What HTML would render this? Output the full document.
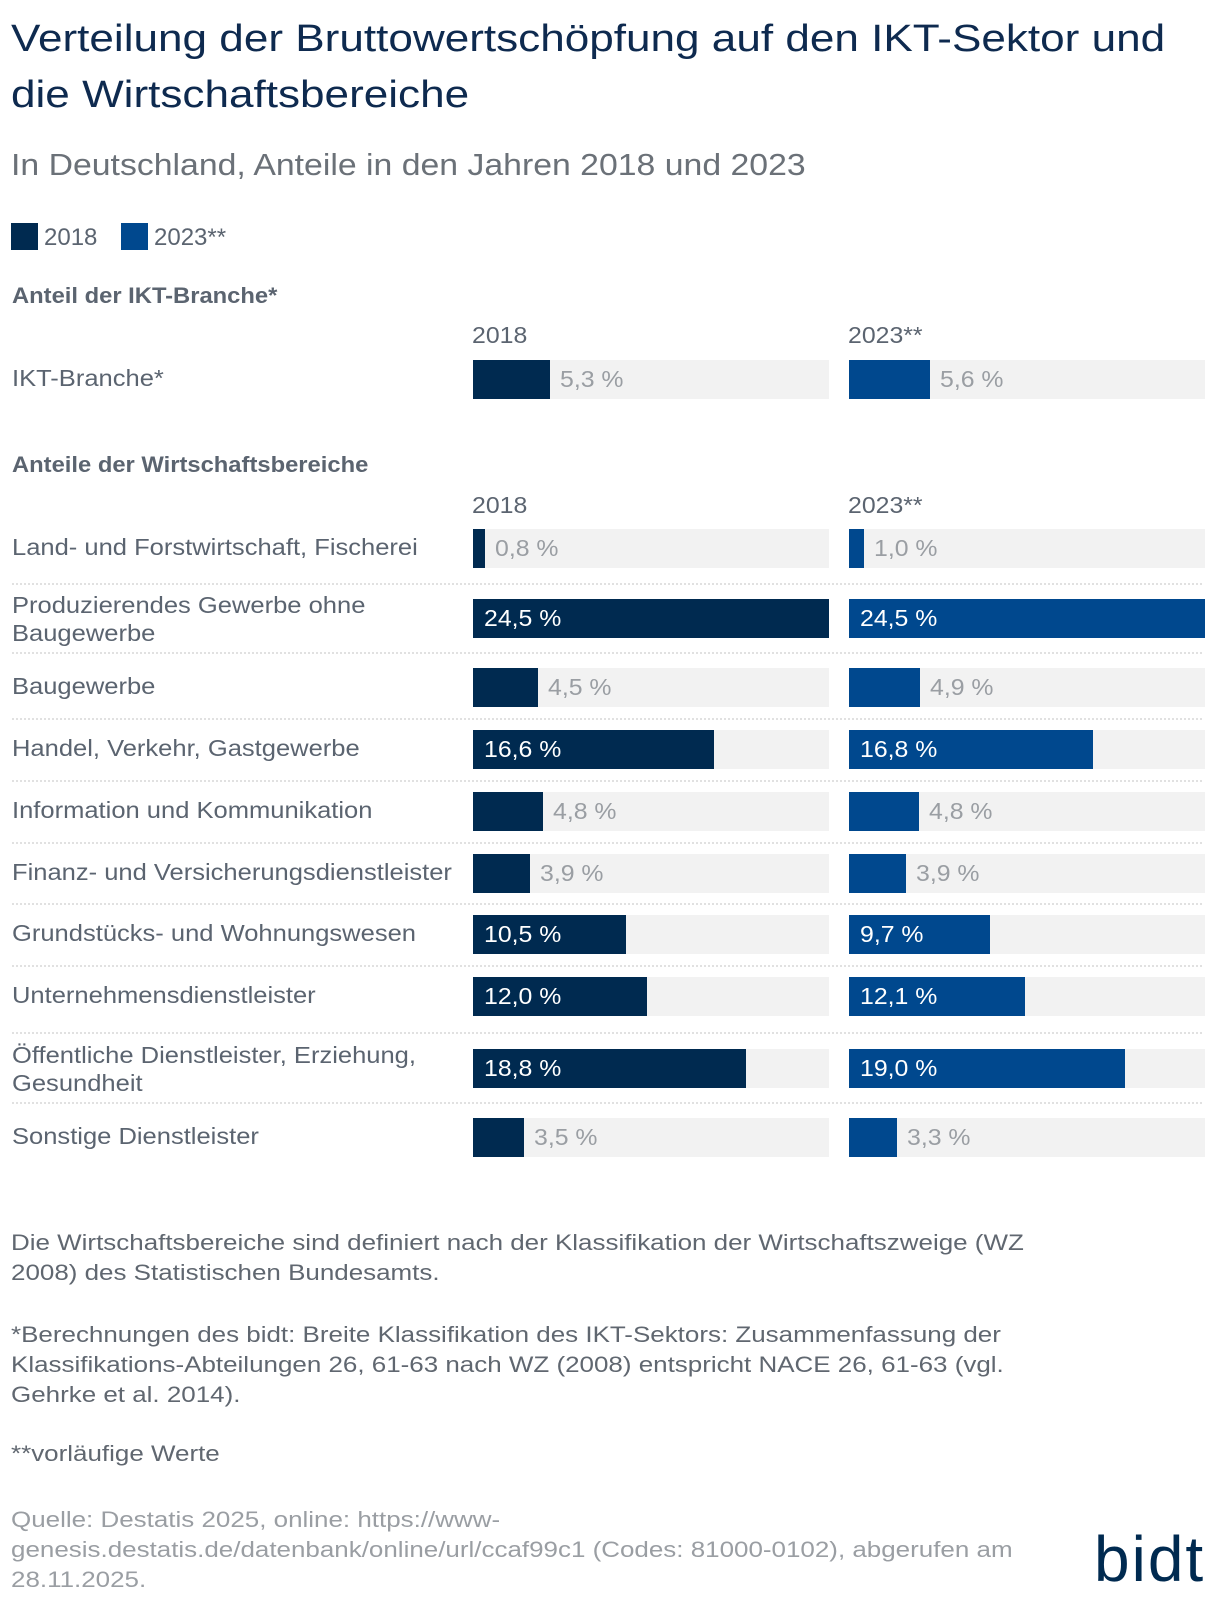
<!DOCTYPE html>
<html><head><meta charset="utf-8">
<style>
body{margin:0;width:1220px;height:1614px;background:#fff;font-family:"Liberation Sans",sans-serif;position:relative;overflow:hidden}
.a{position:absolute;white-space:nowrap;transform-origin:0 0}
.t{left:11px;font-size:38px;color:#0e2a4f;transform:scaleX(1.16)}
.lab{left:12px;font-size:23px;color:#5b6470;line-height:28px;transform:scaleX(1.11)}
.yr{font-size:23px;color:#5b6470;transform:scaleX(1.08)}
.hd{left:12px;font-size:22px;font-weight:bold;color:#5b6470;transform:scaleX(1.08)}
.note{left:11px;font-size:22px;color:#606770;line-height:30px;transform:scaleX(1.18)}
.bg{background:#f2f2f2;position:absolute}
.bar{position:absolute}
.val{position:absolute;font-size:23px;line-height:39px;white-space:nowrap;transform-origin:0 0;transform:scaleX(1.08)}
.sep{position:absolute;left:12px;width:1190px;border-top:2px dotted #e1e1e1}
</style></head><body>
<div class="a t" style="top:18px">Verteilung der Bruttowertschöpfung auf den IKT-Sektor und</div>
<div class="a t" style="top:74px">die Wirtschaftsbereiche</div>
<div class="a" style="left:11px;top:147px;font-size:31px;color:#6b7178;transform:scaleX(1.09)">In Deutschland, Anteile in den Jahren 2018 und 2023</div>
<div class="a" style="left:11px;top:223px;font-size:24px;color:#5b6470"><span style="display:inline-block;width:27px;height:27px;background:#002a50;vertical-align:-5px;margin-right:6px"></span>2018</div>
<div class="a" style="left:121px;top:223px;font-size:24px;color:#5b6470"><span style="display:inline-block;width:27px;height:27px;background:#00488e;vertical-align:-5px;margin-right:6px"></span>2023**</div>
<div class="a hd" style="top:283px">Anteil der IKT-Branche*</div>
<div class="a hd" style="top:452px">Anteile der Wirtschaftsbereiche</div>
<div class="a yr" style="left:472px;top:322px">2018</div>
<div class="a yr" style="left:848px;top:322px">2023**</div>
<div class="a yr" style="left:472px;top:492px">2018</div>
<div class="a yr" style="left:848px;top:492px">2023**</div>
<div id="chart"></div>
<div class="a note" style="top:1228px">Die Wirtschaftsbereiche sind definiert nach der Klassifikation der Wirtschaftszweige (WZ<br>2008) des Statistischen Bundesamts.</div>
<div class="a note" style="top:1320px">*Berechnungen des bidt: Breite Klassifikation des IKT-Sektors: Zusammenfassung der<br>Klassifikations-Abteilungen 26, 61-63 nach WZ (2008) entspricht NACE 26, 61-63 (vgl.<br>Gehrke et al. 2014).</div>
<div class="a note" style="top:1439px">**vorläufige Werte</div>
<div class="a note" style="top:1505px;color:#9a9ea3">Quelle: Destatis 2025, online: https://www-<br>genesis.destatis.de/datenbank/online/url/ccaf99c1 (Codes: 81000-0102), abgerufen am<br>28.11.2025.</div>
<div class="a" style="left:1094px;top:1527px;font-size:64px;color:#002a50;letter-spacing:2px;line-height:64px">bidt</div>
<script>
const categories=["IKT-Branche*","Land- und Forstwirtschaft, Fischerei","Produzierendes Gewerbe ohne<br>Baugewerbe","Baugewerbe","Handel, Verkehr, Gastgewerbe","Information und Kommunikation","Finanz- und Versicherungsdienstleister","Grundstücks- und Wohnungswesen","Unternehmensdienstleister","Öffentliche Dienstleister, Erziehung,<br>Gesundheit","Sonstige Dienstleister"];
const values2018=[5.3,0.8,24.5,4.5,16.6,4.8,3.9,10.5,12.0,18.8,3.5];
const values2023=[5.6,1.0,24.5,4.9,16.8,4.8,3.9,9.7,12.1,19.0,3.3];
const rowTops=[360,529,599,668,730,792,854,915,977,1049,1118];
const maxV=24.5, W=356, H=39, x18=473, x23=849;
const sx=v=>v/maxV*W;
const fmt=v=>v.toFixed(1).replace('.',',')+' %';
const c=document.getElementById('chart');
categories.forEach((cat,i)=>{
  const y=rowTops[i], two=cat.includes('<br>');
  const l=document.createElement('div');
  l.className='a lab';l.style.top=(two?y-8:y+4)+'px';l.innerHTML=cat;
  
  
  c.appendChild(l);
  [[values2018[i],x18,'#002a50','2018'],[values2023[i],x23,'#00488e','2023']].forEach(([v,x,col,yr])=>{
    const bg=document.createElement('div');bg.className='bg';
    bg.style.cssText+=`left:${x}px;top:${y}px;width:${W}px;height:${H}px`;
    
    
    c.appendChild(bg);
    const w=sx(v);
    const b=document.createElement('div');b.className='bar';
    b.style.cssText+=`left:${x}px;top:${y}px;width:${w}px;height:${H}px;background:${col}`;
    
    
    c.appendChild(b);
    const t=document.createElement('div');t.className='val';t.textContent=fmt(v);
    const inside=w>120;
    t.style.cssText+=`top:${y}px;left:${inside?x+11:x+w+10}px;color:${inside?'#fff':'#9a9ea3'}`;
    
    
    c.appendChild(t);
  });
  if(i>=1&&i<categories.length-1){
    const s=document.createElement('div');s.className='sep';
    s.style.top=(rowTops[i+1]-(rowTops[i+1]-y-H)/2-1)+'px';
    
    
    c.appendChild(s);
  }
});
</script>
</body></html>
